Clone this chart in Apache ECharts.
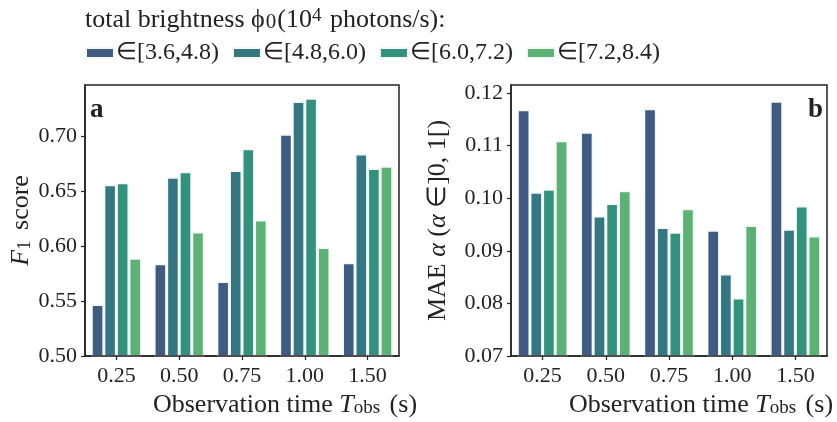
<!DOCTYPE html>
<html><head><meta charset="utf-8">
<script src="https://cdn.jsdelivr.net/npm/echarts@6/dist/echarts.min.js"></script>
<style>html,body{margin:0;padding:0;background:#fff}#c{width:837px;height:422px}</style>
</head><body><div id="c"></div>
<script>
const categories = ['0.25', '0.50', '0.75', '1.00', '1.50'];
const seriesNames = ['∈[3.6,4.8)', '∈[4.8,6.0)', '∈[6.0,7.2)', '∈[7.2,8.4)'];
const colors = ['#3f5b82', '#347682', '#33927d', '#5bb274'];
const f1_36 = [0.547, 0.584, 0.568, 0.702, 0.585];
const f1_48 = [0.656, 0.663, 0.669, 0.732, 0.684];
const f1_60 = [0.658, 0.668, 0.689, 0.735, 0.671];
const f1_72 = [0.589, 0.613, 0.624, 0.599, 0.673];
const mae_36 = [0.1168, 0.1125, 0.1170, 0.0939, 0.1184];
const mae_48 = [0.1011, 0.0966, 0.0944, 0.0856, 0.0941];
const mae_60 = [0.1017, 0.0990, 0.0935, 0.0810, 0.0985];
const mae_72 = [0.1109, 0.1014, 0.0980, 0.0948, 0.0928];
const f1Ticks = [0.50, 0.55, 0.60, 0.65, 0.70];
const maeTicks = [0.07, 0.08, 0.09, 0.10, 0.11, 0.12];

const F = 'Liberation Serif, Times New Roman, serif';
const C = '#222';
const f1Data = [f1_36, f1_48, f1_60, f1_72];
const maeData = [mae_36, mae_48, mae_60, mae_72];

function xAxis(gi, shift) {
  return {
    type: 'category', gridIndex: gi, data: categories, z: 10,
    axisLine: { show: true, lineStyle: { color: C, width: 1.5 } },
    axisTick: { show: true, alignWithLabel: true, length: 4, lineStyle: { color: C, width: 1.2 } },
    axisLabel: { color: C, fontFamily: F, fontSize: 22, margin: 9 },
    name: 'Observation time {i|T}{sub|obs} (s)',
    nameLocation: 'middle', nameGap: 29,
    nameTextStyle: { color: C, fontFamily: F, fontSize: 26, verticalAlign: 'top', padding: [0, 0, 0, shift],
      rich: { i: { fontStyle: 'italic', fontFamily: F, fontSize: 26, color: C },
              sub: { fontFamily: F, fontSize: 19, color: C, verticalAlign: 'bottom', padding: [0, 3, 0, 0] } } }
  };
}
function yAxis(gi, ticks, max, name, gap, rich) {
  return {
    type: 'value', gridIndex: gi, min: ticks[0], max: max, z: 10,
    interval: ticks[1] - ticks[0],
    axisLine: { show: true, lineStyle: { color: C, width: 1.5 } },
    axisTick: { show: true, length: 4, lineStyle: { color: C, width: 1.2 } },
    axisLabel: { color: C, fontFamily: F, fontSize: 22, margin: 8,
      formatter: v => (ticks.some(t => Math.abs(t - v) < 1e-9) ? v.toFixed(2) : ''),
      showMaxLabel: false },
    splitLine: { show: false },
    name: name, nameLocation: 'middle', nameGap: gap, nameRotate: 90,
    nameTextStyle: { color: C, fontFamily: F, fontSize: 26, rich: rich }
  };
}
const series = [];
for (let k = 0; k < 4; k++) {
  series.push({ type: 'bar', name: seriesNames[k], xAxisIndex: 0, yAxisIndex: 0, data: f1Data[k], z: 1,
    barGap: '0%', barCategoryGap: '20%', itemStyle: { color: colors[k], borderColor: '#f4f8f6', borderWidth: 1.5 } });
}
for (let k = 0; k < 4; k++) {
  series.push({ type: 'bar', name: seriesNames[k], xAxisIndex: 1, yAxisIndex: 1, data: maeData[k], z: 1,
    barGap: '0%', barCategoryGap: '20%', itemStyle: { color: colors[k], borderColor: '#f4f8f6', borderWidth: 1.5 } });
}
const chart = echarts.init(document.getElementById('c'), null, { renderer: 'canvas' });
chart.setOption({
  animation: false,
  backgroundColor: '#fff',
  title: {
    text: 'total brightness ϕ{sub|0}(10{sup|4} photons/s):', left: 80, top: 2,
    textStyle: { color: C, fontFamily: F, fontSize: 26, fontWeight: 'normal',
      rich: { sub: { fontFamily: F, fontSize: 21, color: C, verticalAlign: 'bottom', padding: [0, 1, 0, 1] },
              sup: { fontFamily: F, fontSize: 19, color: C, verticalAlign: 'top', padding: [0, 2, 0, 0] } } }
  },
  legend: {
    data: seriesNames, left: 80, top: 36, itemWidth: 28, itemHeight: 10, itemGap: 13,
    icon: 'rect',
    textStyle: { color: C, fontFamily: F, fontSize: 24, padding: [0, 0, 0, -3] }
  },
  grid: [
    { left: 85, right: 438, top: 85, bottom: 66, show: true, borderColor: C, borderWidth: 1.5,
      backgroundColor: 'transparent', containLabel: false, outerBoundsMode: 'none' },
    { left: 511, right: 10, top: 85, bottom: 66, show: true, borderColor: C, borderWidth: 1.5,
      backgroundColor: 'transparent', containLabel: false, outerBoundsMode: 'none' }
  ],
  xAxis: [xAxis(0, 86), xAxis(1, 64)],
  yAxis: [
    yAxis(0, f1Ticks, 0.747, '{i|F}{sub|1} score', 43,
      { i: { fontStyle: 'italic', fontFamily: F, fontSize: 26, color: C },
        sub: { fontFamily: F, fontSize: 19, color: C, verticalAlign: 'bottom', padding: [0, 4, 0, 0] } }),
    yAxis(1, maeTicks, 0.1215, 'MAE {i|α} ({i|α} ∈]0, 1[)', 60,
      { i: { fontStyle: 'italic', fontFamily: F, fontSize: 26, color: C } })
  ],
  graphic: [
    { type: 'text', left: 90, top: 97, style: { text: 'a', font: 'bold 27px ' + F, fill: C } },
    { type: 'text', right: 14, top: 97, style: { text: 'b', font: 'bold 27px ' + F, fill: C } }
  ],
  series: series
});
</script></body></html>
